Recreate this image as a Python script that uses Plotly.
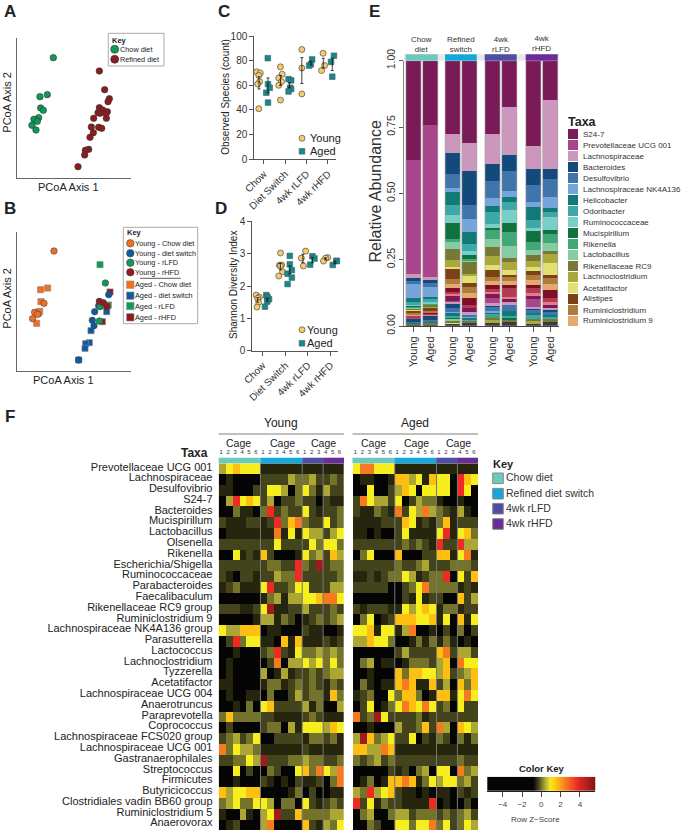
import plotly.graph_objects as go

W, H = 685, 831
FONT = "Liberation Sans"
INK = "#222222"

# ---------- Panel A / B ordination scores (arbitrary PCoA units) ----------
a_chow_x = [108, 90, 68, 70, 78, 64, 50, 60, 44, 56]
a_chow_y = [361, 250, 244, 210, 203, 181, 176, 170, 158, 144]
a_ref_x = [246, 262, 276, 272, 246, 256, 242, 270, 266, 248, 229, 267, 222, 244, 253, 228, 218, 214, 204, 202, 182]
a_ref_y = [321, 265, 238, 229, 211, 204, 196, 199, 194, 194, 179, 179, 153, 152, 149, 136, 122, 86, 83, 69, 34]

b_names = ["Young - Chow diet", "Young - diet switch", "Young - rLFD", "Young - rHFD",
           "Aged - Chow diet", "Aged - diet switch", "Aged - rLFD", "Aged - rHFD"]
b_x = [[110, 80, 52, 61, 46], [274, 244, 232, 225, 230, 184], [264, 246, 248], [246, 258, 268],
       [91, 70, 71, 67, 58, 63], [268, 221, 216, 205, 203, 184], [248, 273], [278, 270, 255]]
b_y = [[361, 204, 177, 171, 158], [230, 197, 179, 153, 137, 34], [265, 151, 194], [210, 206, 194],
       [250, 245, 209, 180, 144, 174], [179, 122, 86, 83, 69, 34], [320, 199], [238, 196, 149]]
b_colors = ["#F26E21", "#0E5A9E", "#0E9A57", "#8E1B1F"] * 2

# ---------- Panel C / D ----------
groups = ["Chow", "Diet Switch", "4wk rLFD", "4wk rHFD"]
c_young = [[71, 70, 68, 63, 61, 41], [75, 69, 66, 63, 60, 48], [89, 74, 53], [86, 76, 72]]
c_young_dx = [[-.33, -.16, -.23, -.19, -.28, -.23], [-.22, -.14, -.3, -.17, -.3, -.22], [-.22, -.22, -.22], [-.23, -.16, -.3]]
c_aged = [[82, 61, 58, 54, 46], [65, 64, 58, 57, 55], [81, 77, 76], [84, 79, 67]]
c_aged_dx = [[.19, .2, .28, .12, .2], [.16, .28, .23, .28, .16], [.26, .2, .12], [.28, .14, .2]]
c_young_mean, c_young_err = [62, 64, 72, 78], [5, 4, 10.5, 4]
c_aged_mean, c_aged_err = [60, 60, 78, 77], [6, 2, 1.5, 5]

d_young = [[1.72, 1.66, 1.62, 1.49, 1.35], [3.02, 2.64, 2.65, 2.44, 2.31, 2.62], [3.08, 2.86, 2.62], [2.88, 2.86, 2.77]]
d_young_dx = [[-.29, -.15, -.22, -.18, -.25], [-.21, -.26, -.16, -.12, -.29, -.22], [-.1, -.29, -.2], [-.12, -.22, -.31]]
d_aged = [[1.72, 1.64, 1.59, 1.52, 1.36, 1.67], [2.93, 2.67, 2.49, 2.38, 2.26, 2.06], [2.92, 2.85, 2.66], [2.78, 2.65, 2.77]]
d_aged_dx = [[.16, .22, .28, .2, .1, .19], [.2, .2, .29, .1, .29, .1], [.2, .29, .1], [.26, .1, .28]]
d_young_mean, d_young_err = [1.57, 2.6, 2.85, 2.84], [.07, .1, .13, .03]
d_aged_mean, d_aged_err = [1.58, 2.5, 2.8, 2.73], [.05, .12, .08, .04]

YOUNG_C, AGED_C = "#F7CB6D", "#0E8C8F"

# ---------- Panel E ----------
taxa = ["S24-7", "Prevotellaceae UCG 001", "Lachnospiraceae", "Bacteroides", "Desulfovibrio",
        "Lachnospiraceae NK4A136", "Helicobacter", "Odoribacter", "Ruminococcaceae", "Mucispirillum",
        "Rikenella", "Lactobacillus", "Rikenellaceae RC9", "Lachnoclostridium", "Acetatifactor",
        "Alistipes", "Ruminiclostridium", "Ruminiclostridium 9"]
other_taxa = ["Other %d" % i for i in range(1, 20)]
taxa_colors = ["#7A1B57", "#A8458B", "#CB97BC", "#134A7C", "#3F75AC", "#76A5DC", "#117A76", "#3CA8A8", "#79CFC8",
               "#10733F", "#40A877", "#83CDA3", "#777833", "#ABA83D", "#E2E070", "#7B4216", "#B07C3E", "#E3A96D",
               "#7D0E24", "#B23A55", "#E9788A", "#7A1B57", "#A8458B", "#CB97BC", "#134A7C", "#3F75AC", "#76A5DC",
               "#117A76", "#3CA8A8", "#79CFC8", "#10733F", "#40A877", "#83CDA3", "#777833", "#ABA83D", "#E2E070", "#3A3A3A"]
bar_labels = ["Young", "Aged"] * 4
chow_young = [37.4, 43.1, 1.5, .75, 1.25, 5.65, 1.5, .9, .3, .3, .3, .3, .5, .2, .1, 1.2, .5, .3, .2, .4, .2, .1, .1, 0, 1.3, .3, 0, .4, 0, 0, 0, 0, 0, .6, 0, 0, .5]
chow_aged = [24, 57.3, 1.25, 1.25, 1.5, 3.65, .6, 1.25, .4, .25, .2, .1, .75, .25, 0, 1.25, .6, .25, .4, .3, .5, 0, 0, 0, 1.6, .4, 0, .3, 0, 0, 0, 0, 0, 1, 0, 0, .6]
switch_young = [27.6, 0, 7.2, 7.7, 5.5, 1.4, 4.9, 3.5, 3.1, 6.3, 1.1, 2.4, 4.4, 2.3, 1, 3.8, 1.6, 1.5, 1.6, .8, .6, 1.9, .4, .75, 1.5, 1.5, .25, 1.25, .6, 0, .6, 0, .75, .6, 0, .5, 1]
switch_aged = [30.9, 0, 10.7, 12.8, 5.3, 4.8, 4.4, 2.8, 1.25, 1.6, .6, .6, 4.4, .9, 2.6, 1.5, 2.3, 1.8, 2.6, 1.1, 0, 1.8, 0, 1.1, 0, .6, .4, .75, .4, 0, 0, 0, 0, .6, 0, 0, 1.4]
rlfd_young = [27.3, 0, 11.2, 6.5, 6.3, 3.1, 2.1, 4.5, 1.5, .9, 3.3, 3.1, 3.1, 3.6, 1.8, 2.5, 1.6, 1.5, 1.5, 1, 1, 1.5, 1.9, .6, .5, 1.6, .5, .6, .4, 0, 0, 1.25, 0, .9, .9, 0, 1.3]
rlfd_aged = [17.5, 0, 17.8, 6, 7.7, 2.4, 1.9, 2.8, 4.9, 3.3, 5.3, 4.8, 1.5, 2.8, 1.8, .75, 1.5, 1.5, 1.1, 3.6, .9, 1.1, 0, .75, 0, 2.4, 0, 2.1, .5, 0, .75, 0, 0, .9, 0, 0, 1.6]
rhfd_young = [32, 0, 8.8, 6, 6.3, 1.8, 4.8, 3, 1.5, 4.1, 2.8, 2.1, 2, 2.3, 1.6, 1.5, 1.9, 1.9, 1, 2.1, 1, 1.25, 2.9, .6, .5, 1, 0, .75, 1.5, 0, 0, 0, 0, 1, .9, 0, 1]
rhfd_aged = [14.6, 0, 26, 3.8, 7, 4, 1.6, 1.9, 4.9, 1.25, 3.4, 3, 1.25, 3.5, 4.4, 1, 2.4, 2.3, 2.8, 1.75, 1.25, .75, 0, .9, .9, 1, 0, .6, .6, 0, 0, 0, 0, 1.5, 0, 0, 1.6]
bars = [chow_young, chow_aged, switch_young, switch_aged, rlfd_young, rlfd_aged, rhfd_young, rhfd_aged]

# ---------- Panel F: colour level per cell, 0 = black ... 9 = dark red ----------
heat_taxa = ["Prevotellaceae UCG 001", "Lachnospiraceae", "Desulfovibrio", "S24-7", "Bacteroides", "Mucispirillum",
             "Lactobacillus", "Olsenella", "Rikenella", "Escherichia/Shigella", "Ruminococcaceae", "Parabacteroides",
             "Faecalibaculum", "Rikenellaceae RC9 group", "Ruminiclostridium 9", "Lachnospiraceae NK4A136 group",
             "Parasutterella", "Lactococcus", "Lachnoclostridium", "Tyzzerella", "Acetatifactor",
             "Lachnospiraceae UCG 004", "Anaerotruncus", "Paraprevotella", "Coprococcus",
             "Lachnospiraceae FCS020 group", "Lachnospiraceae UCG 001", "Gastranaerophilales", "Streptococcus",
             "Firmicutes", "Butyricicoccus", "Clostridiales vadin BB60 group", "Ruminiclostridium 5", "Anaerovorax"]
level_z = [-2.0, -.55, -.3, 0.0, .35, .9, 1.6, 2.5, 3.7, 5.0]
young_levels = ["456555 111111 111 111", "010000 222243 342 232", "110002 255403 531 422", "048565 240223 220 211",
                "003110 382322 521 223", "211122 128367 322 523", "011111 117151 544 245", "222222 225222 253 553",
                "005121 620001 534 264", "222222 233228 329 233", "210221 224338 222 223", "123111 582235 522 244",
                "000000 134144 556 775", "222112 591122 422 232", "000001 441320 123 234", "544666 011000 211 001",
                "028355 110616 111 212", "001000 238215 334 343", "010000 027044 545 353", "010000 401412 232 344",
                "110000 133123 232 132", "010011 030024 233 163", "001030 562222 413 004", "363333 221111 232 111",
                "020000 233041 555 465", "234235 002222 133 231", "735443 111111 211 111", "223354 922233 433 223",
                "005020 032005 637 547", "001000 210102 112 037", "645566 000013 020 011", "345335 540330 521 232",
                "100410 459226 333 344", "012000 470000 621 435"]
aged_levels = ["577555 111111 111 111", "011001 664516 550 865", "005002 465055 550 850", "275442 502433 100 100",
               "211321 725474 321 410", "111122 265121 361 222", "110100 251111 581 563", "222222 232321 822 844",
               "035000 600022 661 571", "222222 322342 223 332", "112123 354123 380 526", "222220 023573 333 121",
               "000000 021512 200 624", "212221 154565 133 122", "035012 666556 150 615", "556155 147001 020 302",
               "446553 001313 131 010", "000000 242222 672 442", "034011 013332 460 755", "001000 636655 462 346",
               "031011 676116 240 636", "123005 366301 661 575", "025013 576575 230 522", "723952 222312 222 222",
               "001000 422362 740 654", "496345 225021 320 313", "664476 111111 111 111", "323423 222222 222 322",
               "000002 120340 550 734", "013016 676135 455 342", "438456 211010 110 212", "825132 211118 010 020",
               "034003 442333 232 342", "003200 553557 352 354"]
cage_ticks = ["1", "2", "3", "4", "5", "6", "1", "2", "3", "4", "5", "6", "1", "2", "3", "4", "5", "6"]
key_names = ["Chow diet", "Refined diet switch", "4wk rLFD", "4wk rHFD"]
key_colors = ["#6CC9BE", "#12A8DC", "#4E4EA3", "#6A2C97"]
key_scale_z = [-5.6 + 0.1 * i for i in range(113)]
key_ticks = [-4, -2, 0, 2, 4]
key_tick_text = ["\u22124", "\u22122", "0", "2", "4"]


def decode(rows):
    return [[level_z[int(c)] for c in r.replace(" ", "")] for r in rows]


def dx(x0, x1):
    return [x0 / W, x1 / W]


def dy(y0, y1):
    return [1 - y1 / H, 1 - y0 / H]


fig = go.Figure()
annos, shapes = [], []


def txt(x, y, s, size=8, bold=False, anchor="left", angle=0, color=INK):
    annos.append(dict(xref="paper", yref="paper", x=x / W, y=1 - y / H, text=("<b>%s</b>" % s) if bold else s,
                      showarrow=False, xanchor=anchor, yanchor="middle", textangle=angle,
                      font=dict(family=FONT, size=size, color=color), borderpad=0, borderwidth=0))


def rect(x0, y0, x1, y1, fill, line=None, lw=0):
    shapes.append(dict(type="rect", xref="paper", yref="paper", x0=x0 / W, x1=x1 / W, y0=1 - y0 / H, y1=1 - y1 / H,
                       fillcolor=fill, line=dict(color=line or fill, width=lw), layer="above"))


def hline(x0, x1, y, color, w=1):
    shapes.append(dict(type="line", xref="paper", yref="paper", x0=x0 / W, x1=x1 / W, y0=1 - y / H, y1=1 - y / H,
                       line=dict(color=color, width=w), layer="above"))


def pts(x, y, axis, color, symbol="circle", size=6.5, lc="#333333", lw=.6, name=""):
    fig.add_trace(go.Scatter(x=x, y=y, mode="markers", xaxis="x" + axis, yaxis="y" + axis, name=name, showlegend=False,
                             marker=dict(color=color, symbol=symbol, size=size, line=dict(color=lc, width=lw)),
                             cliponaxis=False))


# A
pts(a_chow_x, a_chow_y, "", "#0E9A57", name="Chow diet")
pts(a_ref_x, a_ref_y, "", "#8E1B1F", name="Refined diet")
# B
for i in [4, 5, 6, 7, 0, 1, 2, 3]:
    pts(b_x[i], b_y[i], "2", b_colors[i], "square" if i >= 4 else "circle", name=b_names[i],
        lc="#888888" if i >= 4 else "#444444", size=6.2 if i >= 4 else 6.5)


# C, D
def dotpanel(axis, young, ydx, aged, adx, ym, ye, am, ae):
    for g in range(4):
        pts([g + d for d in ydx[g]], young[g], axis, YOUNG_C, name="Young", size=6)
        pts([g + d for d in adx[g]], aged[g], axis, AGED_C, "square", name="Aged", lc="#555555", size=5.6)
    for means, errs, off in ((ym, ye, -.22), (am, ae, .2)):
        fig.add_trace(go.Scatter(x=[g + off for g in range(4)], y=means, mode="markers", xaxis="x" + axis, yaxis="y" + axis,
                                 showlegend=False, marker=dict(size=1, color="#111111"), cliponaxis=False,
                                 error_y=dict(type="data", array=errs, color="#111111", thickness=.8, width=1.5)))


dotpanel("3", c_young, c_young_dx, c_aged, c_aged_dx, c_young_mean, c_young_err, c_aged_mean, c_aged_err)
dotpanel("4", d_young, d_young_dx, d_aged, d_aged_dx, d_young_mean, d_young_err, d_aged_mean, d_aged_err)

# E
bar_x = [0, 1, 2.34, 3.33, 4.71, 5.71, 7.14, 8.14]
bar_width = .9
all_taxa = taxa + other_taxa
for t in range(len(taxa_colors) - 1, -1, -1):
    fig.add_trace(go.Bar(x=bar_x, y=[b[t] for b in bars], name=all_taxa[t], xaxis="x5", yaxis="y5", width=bar_width,
                         showlegend=False, marker=dict(color=taxa_colors[t], line=dict(width=0))))
for p in bar_x:
    shapes.append(dict(type="rect", xref="x5", yref="y5", x0=p - bar_width / 2, x1=p + bar_width / 2, y0=0, y1=1,
                       fillcolor="rgba(0,0,0,0)", line=dict(color="#a8a8a8", width=.7), layer="above"))

# F
HEAT_SCALE = [[(z + 5.6) / 11.2, c] for z, c in [(-5.6, "#050505"), (-.8, "#050505"), (-.55, "#26260f"), (-.3, "#44441c"),
                                                 (0, "#74732b"), (.35, "#aca734"), (.9, "#f7ee1d"), (1.6, "#fdc012"),
                                                 (2.5, "#f67b20"), (3.7, "#ee2a25"), (5.6, "#7e1418")]]
rows_idx = list(range(len(heat_taxa)))
fig.add_trace(go.Heatmap(z=decode(young_levels), x=list(range(18)), y=rows_idx, xaxis="x6", yaxis="y6", zmin=-5.6, zmax=5.6,
                         colorscale=HEAT_SCALE, showscale=False))
fig.add_trace(go.Heatmap(z=decode(aged_levels), x=list(range(18)), y=rows_idx, xaxis="x7", yaxis="y7", zmin=-5.6, zmax=5.6,
                         colorscale=HEAT_SCALE, showscale=False))
fig.add_trace(go.Heatmap(z=[key_scale_z], x=key_scale_z, y=[0], xaxis="x9", yaxis="y9", zmin=-5.6, zmax=5.6,
                         colorscale=HEAT_SCALE, showscale=False))

# ---- axes ----
plain = dict(showgrid=False, zeroline=False, showline=True, linecolor="#666666", linewidth=1, ticks="", showticklabels=False)
lay = dict(width=W, height=H, autosize=False, margin=dict(l=0, r=0, t=0, b=0, autoexpand=False), paper_bgcolor="white",
           plot_bgcolor="rgba(0,0,0,0)", font=dict(family=FONT, color=INK), barmode="stack", barnorm="fraction", bargap=0)
lay["xaxis"] = dict(plain, domain=dx(17.3, 130.7), range=[0, 340], anchor="y")
lay["yaxis"] = dict(plain, domain=dy(38.3, 178), range=[0, 419], anchor="x")
lay["xaxis2"] = dict(plain, domain=dx(17.3, 130.7), range=[0, 340], anchor="y2")
lay["yaxis2"] = dict(plain, domain=dy(231.7, 371.3), range=[0, 419], anchor="x2")

tickax = dict(showgrid=False, zeroline=False, showline=True, linecolor="#555555", linewidth=1, ticks="outside", ticklen=4,
              tickcolor="#555555", tickfont=dict(family=FONT, size=10, color="#333333"))
lay["xaxis3"] = dict(tickax, domain=dx(254.3, 335.7), range=[-.44, 3.36], anchor="y3", tickvals=[0, 1, 2, 3], ticktext=groups, tickangle=-45)
lay["yaxis3"] = dict(tickax, domain=dy(36, 159.3), range=[0, 100], anchor="x3", tickvals=[0, 20, 40, 60, 80, 100])
lay["xaxis4"] = dict(tickax, domain=dx(252.3, 338.3), range=[-.46, 3.345], anchor="y4", tickvals=[0, 1, 2, 3], ticktext=groups, tickangle=-45)
lay["yaxis4"] = dict(tickax, domain=dy(221.3, 350.7), range=[0, 4], anchor="x4", tickvals=[0, 1, 2, 3, 4])
lay["xaxis5"] = dict(tickax, domain=dx(404, 559), range=[-.56, 8.67], anchor="y5", tickvals=bar_x, ticktext=bar_labels, tickangle=-90,
                     tickfont=dict(family=FONT, size=11, color="#333333"), linecolor="#444444", ticklen=5)
lay["yaxis5"] = dict(tickax, domain=dy(60.7, 326), range=[0, 1], anchor="x5", tickvals=[0, .25, .5, .75, 1],
                     ticktext=["0.00", "0.25", "0.50", "0.75", "1.00"], tickangle=-90,
                     tickfont=dict(family=FONT, size=10.5, color="#333333"), linecolor="#888888", ticklen=4)
heat_x = dict(showgrid=False, zeroline=False, showline=False, side="top", range=[-.5, 17.5], tickvals=list(range(18)), ticktext=cage_ticks,
              ticks="outside", ticklen=6, tickcolor="rgba(0,0,0,0)", tickfont=dict(family=FONT, size=6, color="#333333"), ticklabelshift=-1)
heat_y = dict(showgrid=False, zeroline=False, showline=False, range=[33.5, -.5])
lay["xaxis6"] = dict(heat_x, domain=dx(218.7, 344), anchor="y6")
lay["yaxis6"] = dict(heat_y, domain=dy(463.3, 830), anchor="x6", tickvals=rows_idx, ticktext=heat_taxa, ticks="outside", ticklen=3,
                     tickcolor="rgba(0,0,0,0)", tickfont=dict(family=FONT, size=11, color="#222222"), ticklabelshift=2)
lay["xaxis7"] = dict(heat_x, domain=dx(353, 478.3), anchor="y7")
lay["yaxis7"] = dict(heat_y, domain=dy(463.3, 830), anchor="x7", showticklabels=False, ticks="")
# page-pixel layer for key swatches
lay["xaxis8"] = dict(domain=[0, 1], range=[0, W], visible=False, anchor="y8", fixedrange=True)
lay["yaxis8"] = dict(domain=[0, 1], range=[H, 0], visible=False, anchor="x8", fixedrange=True)
# colour key axes
lay["xaxis9"] = dict(domain=dx(487.3, 595.3), range=[-5.6, 5.6], anchor="y9", showgrid=False, zeroline=False, showline=True,
                     linecolor="#222222", mirror=False, tickvals=key_ticks, ticktext=key_tick_text, ticks="outside", ticklen=5,
                     tickcolor="#444444", tickfont=dict(family=FONT, size=8, color="#444444"))
lay["yaxis9"] = dict(domain=dy(776.7, 791), range=[-.5, .5], anchor="x9", visible=False)

# group separators of heatmaps
for ax in ("6", "7"):
    for v in (5.5, 11.5, 14.5):
        shapes.append(dict(type="line", xref="x" + ax, yref="y" + ax, x0=v, x1=v, y0=-.5, y1=33.5,
                           line=dict(color="#777777", width=1), layer="above"))

# ---- panel letters ----
for s, x, y in (("A", 4, 12), ("B", 4, 208), ("C", 218, 12), ("D", 215, 208), ("E", 369, 12), ("F", 5, 416)):
    txt(x, y, s, 17, True)

# ---- A, B labels and keys ----
txt(68, 187, "PCoA Axis 1", 11, anchor="center")
txt(6.7, 102, "PCoA Axis 2", 11, anchor="center", angle=-90)
txt(64, 380.5, "PCoA Axis 1", 11, anchor="center")
txt(6.7, 298, "PCoA Axis 2", 11, anchor="center", angle=-90)

rect(108.3, 33.3, 164, 66, "rgba(0,0,0,0)", "#aaaaaa", 1)
txt(111.5, 40.7, "Key", 7.5, True)
for y, name, c in ((49.3, "Chow diet", "#0E9A57"), (59.3, "Refined diet", "#8E1B1F")):
    txt(120, y, name, 7.3)
    fig.add_trace(go.Scatter(x=[114.7], y=[y], mode="markers", xaxis="x8", yaxis="y8", showlegend=False,
                             marker=dict(color=c, size=8, line=dict(color="#333", width=.6))))

rect(123.3, 227.3, 197.7, 323.7, "rgba(0,0,0,0)", "#aaaaaa", 1)
txt(126.5, 232.5, "Key", 7.5, True)
b_key_y = [243.3, 253.3, 262.7, 272.3, 284.7, 295.7, 306, 317.3]
for i, y in enumerate(b_key_y):
    txt(135.3, y, b_names[i], 7.3)
    fig.add_trace(go.Scatter(x=[130.3], y=[y], mode="markers", xaxis="x8", yaxis="y8", showlegend=False,
                             marker=dict(color=b_colors[i], size=7.5, symbol="square" if i >= 4 else "circle",
                                         line=dict(color="#999" if i >= 4 else "#444", width=.6))))
hline(140, 180.7, 278.3, "#333333", .8)

# ---- C, D labels ----
txt(225.7, 97, "Observed Species (count)", 10, anchor="center", angle=-90)
txt(233, 285, "Shannon Diversity Index", 10, anchor="center", angle=-90)
for ys, tx in (((138.3, 151.3), 310.3), ((329.7, 343.3), 307.3)):
    txt(tx, ys[0], "Young", 11)
    txt(tx, ys[1], "Aged", 11)
    fig.add_trace(go.Scatter(x=[302], y=[ys[0]], mode="markers", xaxis="x8", yaxis="y8", showlegend=False,
                             marker=dict(color=YOUNG_C, size=6, line=dict(color="#333", width=.6))))
    fig.add_trace(go.Scatter(x=[302], y=[ys[1]], mode="markers", xaxis="x8", yaxis="y8", showlegend=False,
                             marker=dict(color=AGED_C, size=5.6, symbol="square", line=dict(color="#555", width=.6))))

# ---- E decorations ----
txt(375, 191.5, "Relative Abundance", 16, anchor="center", angle=-90, color="#333333")
rect(404, 54.3, 559, 60.7, "#e8e8e8")
for (x0, x1), c in zip(((405.7, 437.7), (445, 476.7), (484.7, 516.7), (525.7, 557.7)), key_colors):
    rect(x0, 54.3, x1, 60.7, c)
for x, y, s in ((421.5, 45, "Chow<br>diet"), (461, 45, "Refined<br>switch"), (501, 45, "4wk<br>rLFD"), (541, 43, "4wk<br>rHFD")):
    txt(x, y, s, 8, anchor="center", color="#333333")
txt(568, 121.7, "Taxa", 12.5, True)
for i, name in enumerate(taxa):
    y = 134 + 11 * i
    rect(568, y - 5, 578, y + 5, taxa_colors[i])
    txt(582.7, y, name, 8, color="#333333")

# ---- F decorations ----
txt(194.3, 453.3, "Taxa", 12, True, anchor="center")
for x0, x1, head, cages in ((218.7, 344, "Young", (239, 282.3, 323.7)), (352.5, 478, "Aged", (373.3, 416, 458))):
    txt((x0 + x1) / 2, 422.7, head, 12, anchor="center")
    hline(x0, x1, 434, "#aaaaaa", 1.5)
    for c in cages:
        txt(c, 442.7, "Cage", 10.5, anchor="center")
    unit = (x1 - x0) / 18
    for a, b, col in ((0, 6, key_colors[0]), (6, 12, key_colors[1]), (12, 15, key_colors[2]), (15, 18, key_colors[3])):
        rect(x0 + a * unit, 457.7, x0 + b * unit, 463.3, col)

txt(492.7, 464.3, "Key", 11, True)
for y, name, c in zip((478.3, 493.7, 508.7, 524), key_names, key_colors):
    rect(492.7, y - 5.3, 503.3, y + 5.3, c, "#888888", 1)
    txt(506, y - 1, name, 10.5, color="#333333")

txt(541.7, 768, "Color Key", 9.5, True, anchor="center")
txt(535, 819.7, "Row Z\u2212Score", 8, anchor="center", color="#444444")

lay["annotations"] = annos
lay["shapes"] = shapes
fig.update_layout(**lay)
fig.write_html("out.html", config={"displayModeBar": False}, post_script="document.body.style.margin='0';")
